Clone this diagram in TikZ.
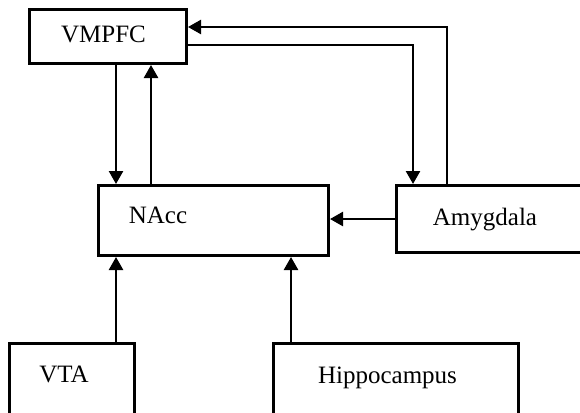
\documentclass[tikz,border=0pt]{standalone}
\usepackage{fontspec}
\setmainfont{Liberation Serif}
\usetikzlibrary{arrows.meta,calc}
\tikzset{
  box/.style={draw, line width=3pt, fill=white, inner sep=0pt, anchor=north west},
  lbl/.style={font=\fontsize{25}{28}\selectfont, anchor=base, inner sep=0pt},
  conn/.style={line width=2.5pt, -{Triangle[length=13pt,width=14pt]}},
}
\begin{document}
\begin{tikzpicture}[x=1pt,y=-1pt]
\useasboundingbox (0,0) rectangle (580,412);
\clip (0,0) rectangle (580,412);
% boxes
\node[box, minimum width=157pt, minimum height=54pt] (vmpfc) at (28,8) {};
\node[box, minimum width=230pt, minimum height=70pt] (nacc) at (97,184) {};
\node[box, minimum width=210pt, minimum height=67pt] (amy) at (395,184) {};
\node[box, minimum width=125pt, minimum height=80pt] (vta) at (8,342) {};
\node[box, minimum width=245pt, minimum height=80pt] (hip) at (272,342) {};
% labels
\node[lbl] (vmpfcl) at (103.5,43) {VMPFC};
\node[lbl] (naccl) at (158,223) {NAcc};
\node[lbl] (amyl) at (485,225) {Amygdala};
\node[lbl] (vtal) at (64,382) {VTA};
\node[lbl] (hipl) at (387.5,383) {Hippocampus};
% connectors
\draw[conn] ($(vmpfc.south west)+(88,0)$) -- ($(nacc.north west)+(19,0)$);
\draw[conn] ($(nacc.north west)+(54,0)$) -- ($(vmpfc.south west)+(123,0)$);
\draw[conn] ($(amy.north west)+(52,0)$) -- ($(amy.north west)+(52,-157)$) -- ($(vmpfc.north east)+(0,19)$);
\draw[conn] ($(vmpfc.north east)+(0,37)$) -- ($(amy.north west)+(18,-139)$) -- ($(amy.north west)+(18,0)$);
\draw[conn] ($(amy.north west)+(0,35)$) -- ($(nacc.north east)+(0,35)$);
\draw[conn] ($(vta.north west)+(108,0)$) -- ($(nacc.south west)+(19,0)$);
\draw[conn] ($(hip.north west)+(19,0)$) -- ($(nacc.south west)+(194,0)$);
\end{tikzpicture}
\end{document}
